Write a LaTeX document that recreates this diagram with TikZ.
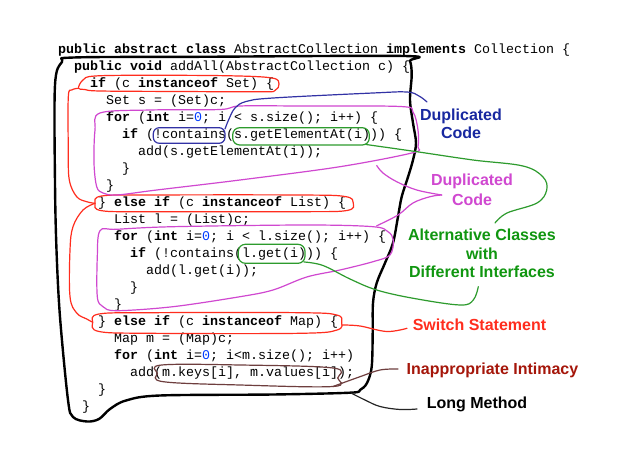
\documentclass[tikz,border=0pt]{standalone}
\usepackage{fontspec}
\newfontfamily\codefont{Liberation Mono}
\newfontfamily\labfont{Liberation Sans}
\definecolor{dupblue}{RGB}{24,40,160}
\definecolor{blueline}{RGB}{50,50,165}
\definecolor{dupmag}{RGB}{208,72,208}
\definecolor{altgreen}{RGB}{16,150,16}
\definecolor{greenline}{RGB}{45,155,45}
\definecolor{swred}{RGB}{255,45,30}
\definecolor{intred}{RGB}{165,22,10}
\definecolor{intline}{RGB}{110,62,62}
\definecolor{numblue}{RGB}{0,60,255}
\tikzset{
  code/.style={anchor=base west, inner sep=0pt, font=\codefont\fontsize{13.33}{17}\selectfont},
  lab/.style={align=center, inner sep=0pt, font=\labfont\bfseries\fontsize{16}{18}\selectfont},
  hand/.style={line width=1.2pt, line join=round, line cap=round},
  outline/.style={line width=2.4pt, line join=round, line cap=round},
}
\newcommand{\kw}[1]{\textbf{#1}}
\newcommand{\nz}{\textcolor{numblue}{0}}
\begin{document}
\frenchspacing
\begin{tikzpicture}[x=1pt,y=-1pt]
\useasboundingbox (0,0) rectangle (627,465);
\fill[white] (0,0) rectangle (627,465);

% code lines
\node[code] (l0)  at (58,53.5)  {\kw{public abstract class} AbstractCollection \kw{implements} Collection \{};
\node[code] (l1)  at (74,70.5)  {\kw{public void} addAll(AbstractCollection c) \{};
\node[code] (l2)  at (90,87.5)  {\kw{if} (c \kw{instanceof} Set) \{};
\node[code] (l3)  at (106,104.5) {Set s = (Set)c;};
\node[code] (l4)  at (106,121.5) {\kw{for} (\kw{int} i=\nz; i < s.size(); i++) \{};
\node[code] (l5)  at (122,138.5) {\kw{if} (!contains(s.getElementAt(i))) \{};
\node[code] (l6)  at (138,155.5) {add(s.getElementAt(i));};
\node[code] (l7)  at (122,172.5) {\}};
\node[code] (l8)  at (106,189.5) {\}};
\node[code] (l9)  at (98,206.5)  {\} \kw{else if} (c \kw{instanceof} List) \{};
\node[code] (l10) at (114,223.5) {List l = (List)c;};
\node[code] (l11) at (114,240.5) {\kw{for} (\kw{int} i=\nz; i < l.size(); i++) \{};
\node[code] (l12) at (130,257.5) {\kw{if} (!contains(l.get(i))) \{};
\node[code] (l13) at (146,274.5) {add(l.get(i));};
\node[code] (l14) at (130,291.5) {\}};
\node[code] (l15) at (114,308.5) {\}};
\node[code] (l16) at (98,325.5)  {\} \kw{else if} (c \kw{instanceof} Map) \{};
\node[code] (l17) at (114,342.5) {Map m = (Map)c;};
\node[code] (l18) at (114,359.5) {\kw{for} (\kw{int} i=\nz; i<m.size(); i++)};
\node[code] (l19) at (130,376.5) {add(m.keys[i], m.values[i]);};
\node[code] (l20) at (98,393.5)  {\}};
\node[code] (l21) at (82,410.5)  {\}};

% labels
\node[lab, text=dupblue] (dupA) at (461,124) {Duplicated\\Code};
\node[lab, text=dupmag, font=\labfont\bfseries\fontsize{16}{20}\selectfont] (dupB) at (472,189.5) {Duplicated\\Code};
\node[lab, text=altgreen, font=\labfont\bfseries\fontsize{16}{18.5}\selectfont] (alt) at (482,253.5) {Alternative Classes\\with\\Different Interfaces};
\node[lab, text=swred] (sw) at (479.5,325) {Switch Statement};
\node[lab, text=intred] (intim) at (492.5,370.7) {Inappropriate Intimacy};
\node[lab, text=black] (longm) at (477,404) {Long Method};

% long method outline
\draw[outline] plot[smooth cycle, tension=0.55] coordinates {
 (62,62) (74,57.5) (200,56.8) (404,56) (410,61) (411.7,75) (410,100) (413,123) (416,143)
 (413,160) (408,177) (401.7,196.7) (398,216.7) (393,243) (385,263) (376.7,283) (373,303)
 (372.7,333) (371.7,366.7) (367,383) (360,390) (350,392.7) (273,394.5) (160,395.5)
 (126,400.5) (110,409) (99,419) (87,421.5) (73,417) (68,400) (60,317) (56.5,250) (55,183) (55,85)};
\coordinate (lmA) at (351,393);
\coordinate (lmB) at (417,409);
\draw[hand, black!85] plot[smooth, tension=0.6] coordinates {(lmA) (365,400) (380,406.5) (400,409.5) (lmB)};

% switch statement (red)
\draw[hand, swred] plot[smooth cycle, tension=0.6] coordinates {
 (78.5,88.3) (83,80) (95,76) (150,75.3) (230,75.8) (272,78) (279,84) (275,90.5) (262,91.8) (180,91.5) (100,91) (85,89.5)};
\draw[hand, swred] plot[smooth cycle, tension=0.6] coordinates {
 (95,203.3) (101.7,196) (150,195) (300,195) (345,196.5) (353.3,203) (347,210.5) (300,211.7) (150,211.7) (101.7,210.7)};
\draw[hand, swred] plot[smooth cycle, tension=0.6] coordinates {
 (92.7,322.3) (99,314) (150,312.7) (300,312.7) (336.7,315) (341.7,322) (337,330) (300,333.3) (150,333.3) (99,331.5)};
\coordinate (brA1) at (78.5,88.3);
\coordinate (brA2) at (95,203.3);
\coordinate (brB2) at (92.7,322.3);
\draw[hand, swred] plot[smooth, tension=0.6] coordinates {(brA1) (71.7,90) (68.3,97) (68.3,150) (69.3,180) (76.7,196.7) (86.7,201.7) (brA2)};
\draw[hand, swred] plot[smooth, tension=0.6] coordinates {(brA2) (83,210) (73,226.7) (70,250) (70,296.7) (76.7,313) (86.7,319) (brB2)};
\coordinate (swA) at (341.7,325);
\coordinate (swB) at (407,328.3);
\draw[hand, swred] plot[smooth, tension=0.6] coordinates {(swA) (360,326) (386.7,331.5) (swB)};

% duplicated code (magenta)
\draw[hand, dupmag] plot[smooth cycle, tension=0.55] coordinates {
 (100,113) (150,110) (220,109.5) (240,106) (300,106) (400,106.5) (413,112) (418,130) (418,146.7) (413,152.7)
 (340,166.7) (240,180) (156.7,190) (116.7,195) (103,193) (96.7,186.7) (94,163) (95,130)};
\draw[hand, dupmag] plot[smooth cycle, tension=0.55] coordinates {
 (100,230.7) (116.7,229.3) (173,226.7) (306.7,225) (373,226.7) (388,231.7) (393.3,240) (390,255) (373,261.7)
 (340,270) (306.7,277) (273,290) (240,296.7) (173,306.7) (116.7,310.7) (103,306.7) (97.3,296.7) (97.3,256.7)};
\coordinate (mgA) at (376.7,165.5);
\coordinate (mgB) at (376.7,225.8);
\coordinate (mgT) at (441.7,195);
\draw[hand, dupmag] plot[smooth, tension=0.6] coordinates {(mgA) (383,173) (396.7,181.7) (416.7,190) (mgT)};
\draw[hand, dupmag] plot[smooth, tension=0.6] coordinates {(mgT) (430,196.7) (413,203) (398,215) (mgB)};

% duplicated code (blue)
\draw[hand, blueline, rounded corners=6pt] (153.3,127.7) rectangle (225,143.3);
\coordinate (blA) at (225,129);
\coordinate (blB) at (427,102);
\draw[hand, blueline] plot[smooth, tension=0.6] coordinates {(blA) (229,119) (235,108) (246,101.5) (273,98) (373,93) (407,92) (419,96) (blB)};

% alternative classes (green)
\draw[hand, greenline, rounded corners=7pt] (232.7,127.7) rectangle (369.3,145);
\draw[hand, greenline, rounded corners=7pt] (238.3,244.3) rectangle (305,263.3);
\coordinate (gnA) at (366,144.5);
\coordinate (gnB) at (495,223);
\draw[hand, greenline] plot[smooth, tension=0.6] coordinates {(gnA) (416.7,151.7) (473,160) (523,166) (543,177) (546.7,190) (537,203) (507,213) (gnB)};
\coordinate (gnC) at (304,262);
\coordinate (gnD) at (478.3,286.7);
\draw[hand, greenline] plot[smooth, tension=0.6] coordinates {(gnC) (323,265.5) (350,279) (376.7,290) (413.3,298.3) (460,305) (473.3,300) (gnD)};

% inappropriate intimacy (brown)
\draw[hand, intline] plot[smooth cycle, tension=0.6] coordinates {
 (161.7,365) (240,365) (333,368) (337.7,378) (333,386.5) (240,385) (163.3,381.7) (157.3,373.3)};
\coordinate (inA) at (333,386.5);
\coordinate (inB) at (398,369);
\draw[hand, intline] plot[smooth, tension=0.6] coordinates {(inA) (360,376.7) (380,370) (inB)};
\end{tikzpicture}
\end{document}
